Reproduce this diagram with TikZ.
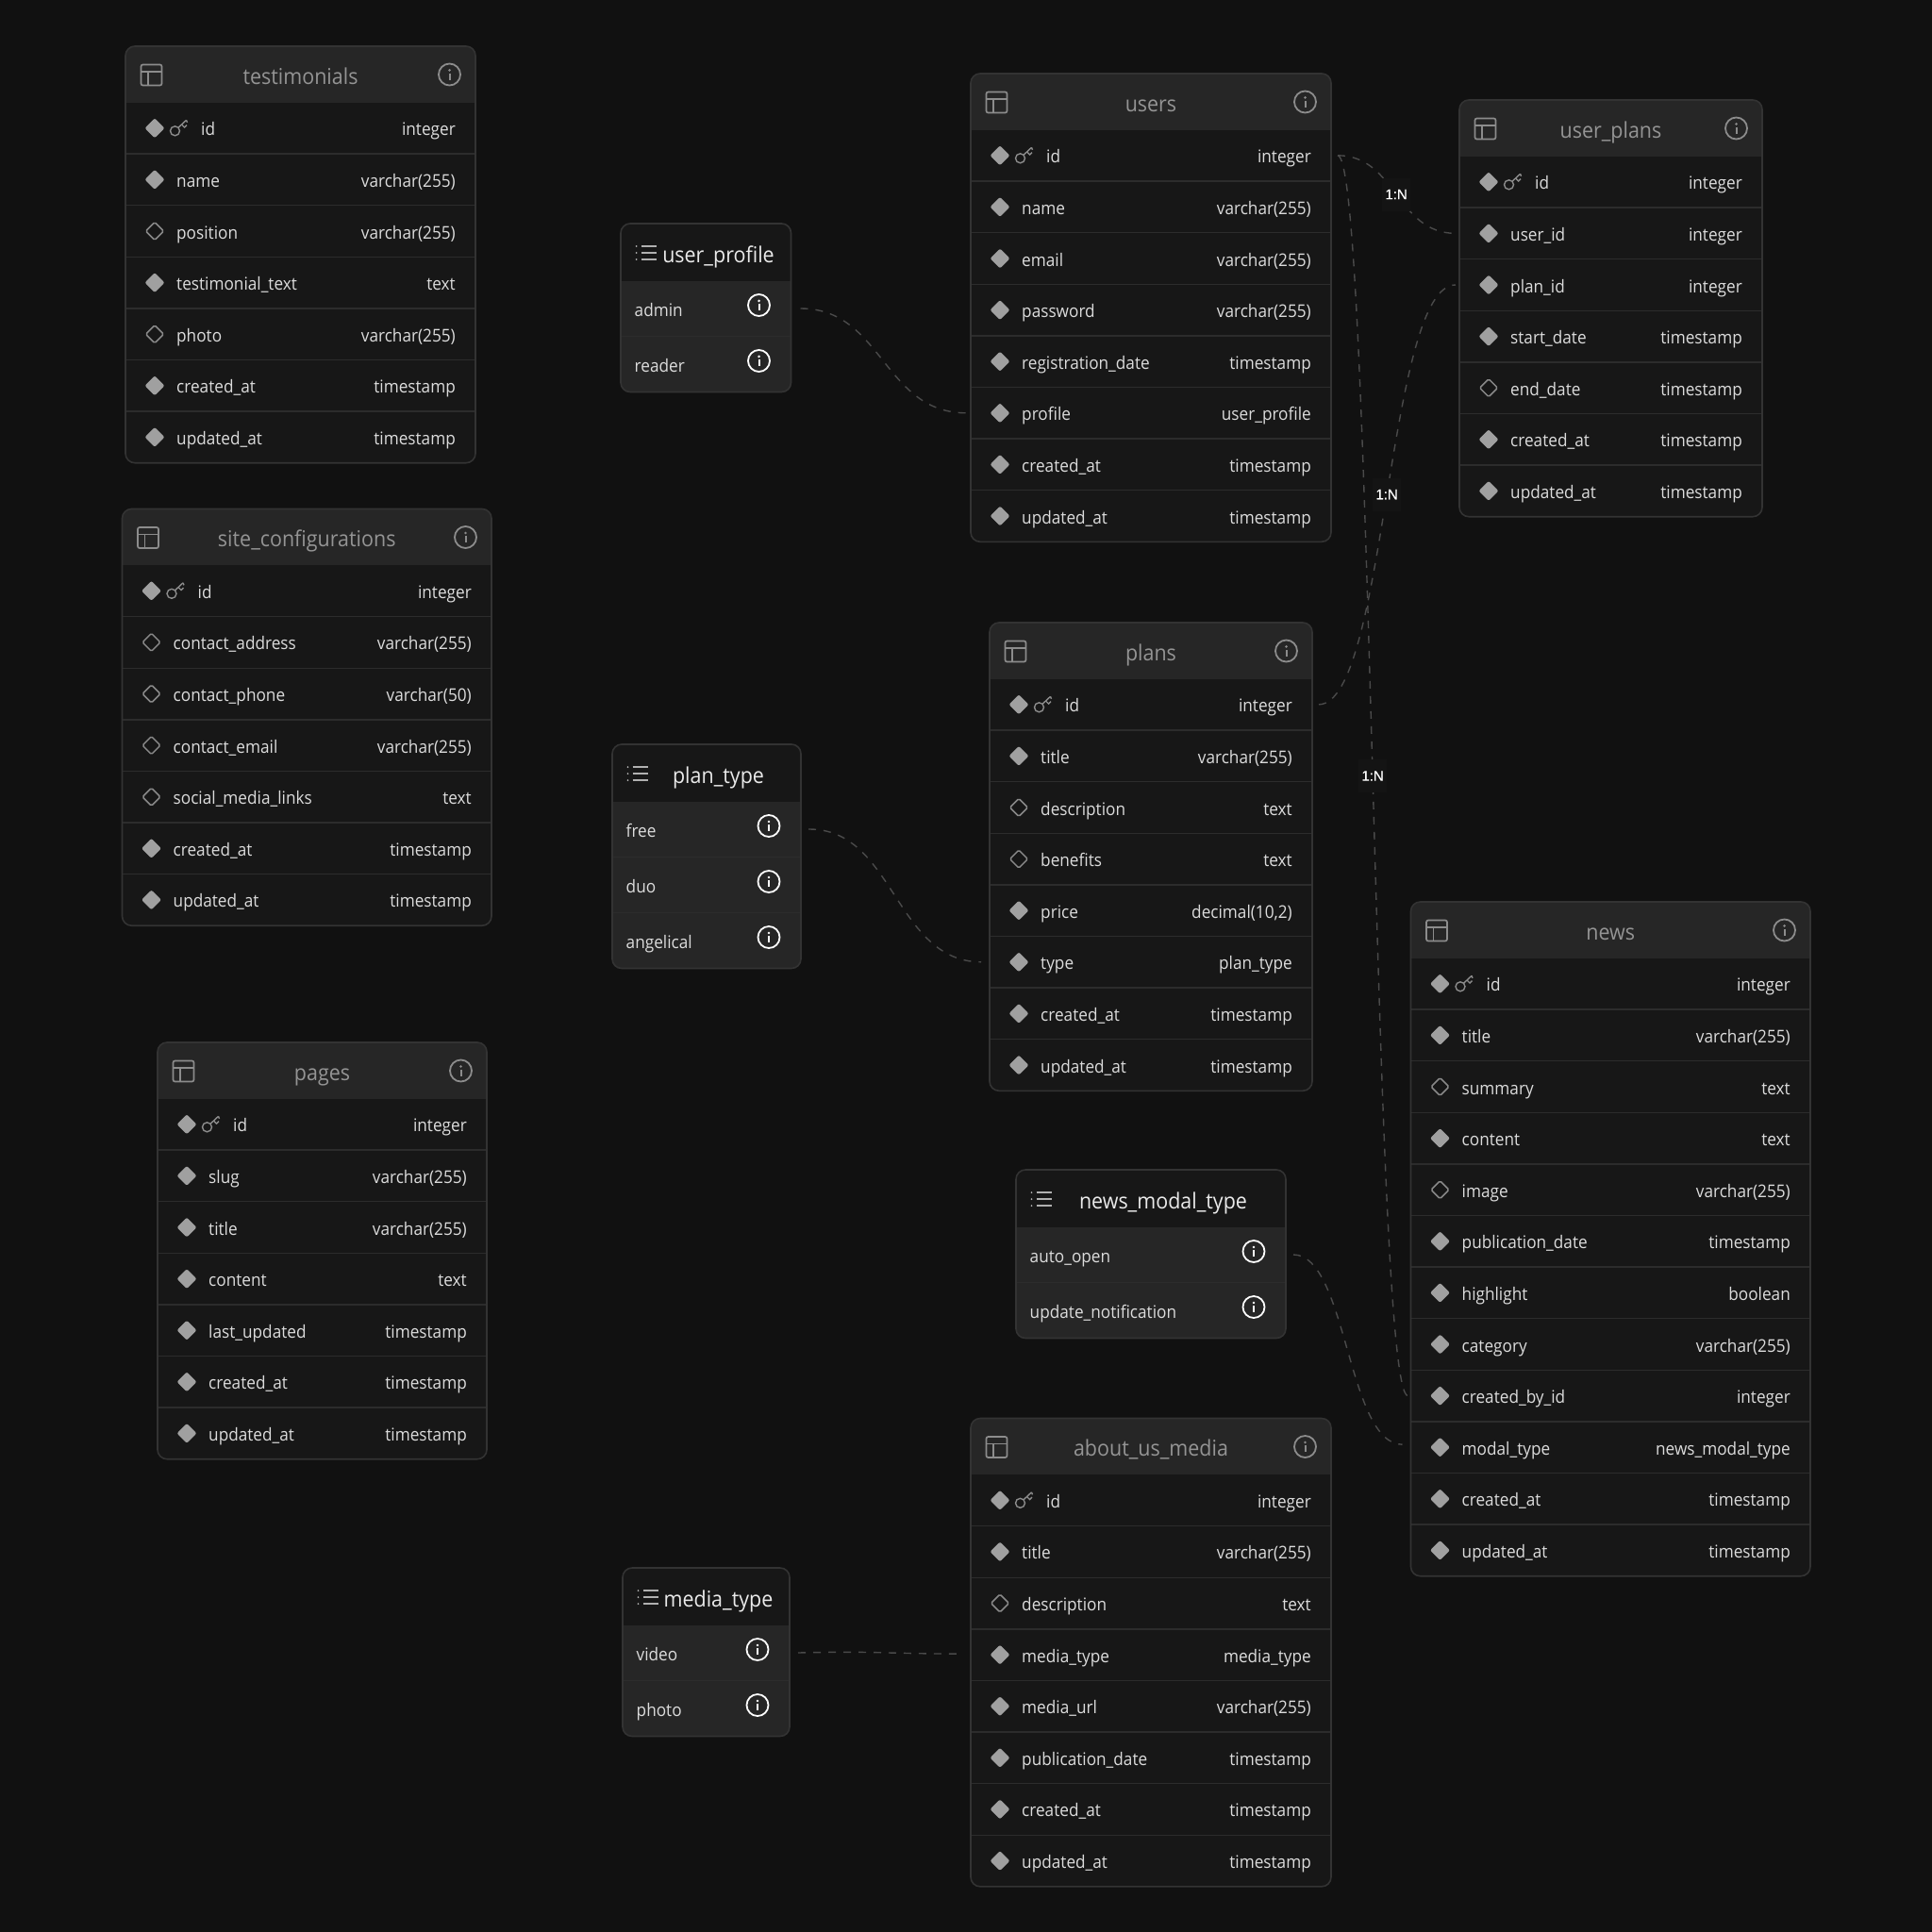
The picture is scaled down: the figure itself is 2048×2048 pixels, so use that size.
\documentclass[tikz,border=0pt]{standalone}
\usepackage{fontspec}
\setmainfont[FakeStretch=0.925]{Open Sans}
\newfontfamily\lblfont[FakeBold=0.4]{Liberation Sans}
\definecolor{bgc}{HTML}{111111}
\definecolor{rowc}{HTML}{171717}
\definecolor{headc}{HTML}{262626}
\definecolor{edgec}{HTML}{333333}
\definecolor{sepc}{HTML}{2C2C2C}
\definecolor{iconc}{HTML}{8C8C8C}
\definecolor{diac}{HTML}{A0A0A0}
\definecolor{txtc}{HTML}{DCDCDC}
\definecolor{ttlc}{HTML}{949494}
\definecolor{conc}{HTML}{4A4A4A}
\definecolor{cardc}{HTML}{141414}
\tikzset{
  x=1pt,y=-1pt,
  fieldtxt/.style={inner sep=0pt,text=txtc,font=\fontsize{18.6}{22}\selectfont},
  fieldl/.style={fieldtxt,anchor=base west},
  fieldr/.style={fieldtxt,anchor=base east},
  ttl/.style={inner sep=0pt,anchor=base,text=ttlc,font=\fontsize{23.2}{26}\selectfont},
  enumttl/.style={inner sep=0pt,anchor=base,text=txtc!60!white,font=\fontsize{23.2}{26}\selectfont},
  rowbox/.style={inner sep=0pt,outer sep=0pt,rectangle},
  shell/.style={draw=edgec,line width=1.6pt,rounded corners=10pt},
  sepline/.style={draw=sepc,line width=1.4pt},
  conn/.style={draw=conc,line width=1.4pt,dash pattern=on 8pt off 8pt},
  card/.style={inner sep=0pt,fill=cardc,text=white,minimum width=30pt,minimum height=35pt,font=\lblfont\fontsize{15}{16}\selectfont}
}
\newcommand{\tblicon}[2]{\begin{scope}[shift={(#1,#2)},draw=iconc,line width=1.7pt]
  \draw[rounded corners=2pt] (-11,-11) rectangle (11,11);
  \draw (-11,-3.5) -- (11,-3.5);
  \draw (-3.5,-3.5) -- (-3.5,11);
\end{scope}}
\newcommand{\infoicon}[3]{\begin{scope}[shift={(#1,#2)}]
  \draw[#3,line width=1.8pt] (0,0) circle (11.5);
  \fill[#3] (0,-4.6) circle (1.4);
  \draw[#3,line width=2pt] (0,-1.2) -- (0,5.5);
\end{scope}}
\newcommand{\keyicon}[2]{\begin{scope}[shift={(#1,#2)},line width=1.4pt,draw=iconc]
  \draw (-4,3) circle (5);
  \draw (-0.5,-0.5) -- (8,-8.5);
  \draw (3,-3.8) -- (6,-0.8) -- (8.5,-3.2);
  \draw (8,-8.5) -- (9,-6);
\end{scope}}
\newcommand{\listicon}[2]{\begin{scope}[shift={(#1,#2)},draw=txtc!80!black,line width=1.5pt]
  \foreach \q in {-7,0,7} {
    \fill[txtc!80!black] (-10.5,\q) circle (1);
    \draw (-5.5,\q) -- (11,\q);
  }
\end{scope}}
\newcommand{\diafill}[2]{\fill[diac,rounded corners=2pt] (#1-10.5,#2) -- (#1,#2-10.5) -- (#1+10.5,#2) -- (#1,#2+10.5) -- cycle;}
\newcommand{\diaopen}[2]{\draw[draw=diac!85!black,line width=1.5pt,rounded corners=1.5pt] (#1-9.5,#2) -- (#1,#2-9.5) -- (#1+9.5,#2) -- (#1,#2+9.5) -- cycle;}
% #1 id, #2 left, #3 right, #4 top, #5 title, #6 number of rows, #7 rows
\newcommand{\dbtable}[7]{%
  \pgfmathsetmacro\xa{#2}\pgfmathsetmacro\xb{#3}\pgfmathsetmacro\yt{#4}
  \pgfmathsetmacro\yh{#4+59.5}\pgfmathsetmacro\yb{#4+59.5+54.6*#6}
  \pgfmathsetmacro\xc{(#2+#3)/2}\pgfmathsetmacro\rw{#3-#2}
  \fill[rowc,rounded corners=10pt] (\xa,\yt) rectangle (\xb,\yb);
  \begin{scope}
    \clip[rounded corners=10pt] (\xa,\yt) rectangle (\xb,\yb);
    \fill[headc] (\xa,\yt) rectangle (\xb,\yh);
  \end{scope}
  \tblicon{#2+27.5}{#4+30.5}
  \infoicon{#3-27.5}{#4+30}{iconc}
  \node[ttl] (#1-title) at (\xc,#4+40) {#5};
  \foreach [count=\i] \f/\n/\ty in {#7} {
    \pgfmathsetmacro\yy{#4+59.5+54.6*(\i-0.5)}
    \pgfmathsetmacro\yl{#4+59.5+54.6*\i}
    \node[rowbox,minimum width=\rw pt,minimum height=54.6pt] (#1-\i) at (\xc,\yy) {};
    \ifnum\i<#6 \draw[sepline] (\xa,\yl) -- (\xb,\yl);\fi
    \ifnum\f=2
      \diafill{#2+31}{\yy}\keyicon{#2+56.5}{\yy}
      \node[fieldl] (#1-\i-n) at (#2+80,\yy+8) {\n};
    \else\ifnum\f=1
      \diafill{#2+31}{\yy}
      \node[fieldl] (#1-\i-n) at (#2+54,\yy+8) {\n};
    \else
      \diaopen{#2+31}{\yy}
      \node[fieldl] (#1-\i-n) at (#2+54,\yy+8) {\n};
    \fi\fi
    \node[fieldr] (#1-\i-t) at (#3-21,\yy+8) {\ty};
  }
  \draw[shell] (\xa,\yt) rectangle (\xb,\yb);
}
% #1 id, #2 left, #3 right, #4 top, #5 title, #6 title centre, #7 rows count, #8 rows
\newcommand{\dbenum}[8]{%
  \pgfmathsetmacro\xa{#2}\pgfmathsetmacro\xb{#3}\pgfmathsetmacro\yt{#4}
  \pgfmathsetmacro\yh{#4+60.5}\pgfmathsetmacro\yb{#4+60.5+59*#7}
  \pgfmathsetmacro\xc{(#2+#3)/2}\pgfmathsetmacro\rw{#3-#2}
  \fill[headc,rounded corners=10pt] (\xa,\yt) rectangle (\xb,\yb);
  \begin{scope}
    \clip[rounded corners=10pt] (\xa,\yt) rectangle (\xb,\yb);
    \fill[rowc] (\xa,\yt) rectangle (\xb,\yh);
  \end{scope}
  \listicon{#2+27}{#4+31}
  \node[enumttl] (#1-title) at (#6,#4+41) {#5};
  \foreach [count=\i] \n in {#8} {
    \pgfmathsetmacro\yy{#4+60.5+59*(\i-0.5)}
    \pgfmathsetmacro\yl{#4+60.5+59*\i}
    \node[rowbox,minimum width=\rw pt,minimum height=59pt] (#1-\i) at (\xc,\yy) {};
    \ifnum\i<#7 \draw[sepline] (\xa,\yl) -- (\xb,\yl);\fi
    \node[fieldl] (#1-\i-n) at (#2+14.5,\yy+8) {\n};
    \infoicon{#3-34}{\yy-3.5}{white}
  }
  \draw[shell] (\xa,\yt) rectangle (\xb,\yb);
}
\begin{document}
\begin{tikzpicture}
\fill[bgc] (0,0) rectangle (2048,2048);
\useasboundingbox (0,0) rectangle (2048,2048);

\dbtable{testimonials}{133}{504}{49}{testimonials}{7}{2/id/integer,1/name/varchar(255),0/position/varchar(255),1/testimonial\_text/text,0/photo/varchar(255),1/created\_at/timestamp,1/updated\_at/timestamp}
\dbtable{siteconf}{129.5}{521}{539.5}{site\_configurations}{7}{2/id/integer,0/contact\_address/varchar(255),0/contact\_phone/varchar(50),0/contact\_email/varchar(255),0/social\_media\_links/text,1/created\_at/timestamp,1/updated\_at/timestamp}
\dbtable{pages}{167}{516}{1105}{pages}{7}{2/id/integer,1/slug/varchar(255),1/title/varchar(255),1/content/text,1/last\_updated/timestamp,1/created\_at/timestamp,1/updated\_at/timestamp}
\dbtable{users}{1029}{1411}{78}{users}{8}{2/id/integer,1/name/varchar(255),1/email/varchar(255),1/password/varchar(255),1/registration\_date/timestamp,1/profile/user\_profile,1/created\_at/timestamp,1/updated\_at/timestamp}
\dbtable{userplans}{1547}{1868}{106}{user\_plans}{7}{2/id/integer,1/user\_id/integer,1/plan\_id/integer,1/start\_date/timestamp,0/end\_date/timestamp,1/created\_at/timestamp,1/updated\_at/timestamp}
\dbtable{plans}{1049}{1391}{660}{plans}{8}{2/id/integer,1/title/varchar(255),0/description/text,0/benefits/text,1/price/{decimal(10,2)},1/type/plan\_type,1/created\_at/timestamp,1/updated\_at/timestamp}
\dbtable{news}{1495.5}{1919}{956}{news}{12}{2/id/integer,1/title/varchar(255),0/summary/text,1/content/text,0/image/varchar(255),1/publication\_date/timestamp,1/highlight/boolean,1/category/varchar(255),1/created\_by\_id/integer,1/modal\_type/news\_modal\_type,1/created\_at/timestamp,1/updated\_at/timestamp}
\dbtable{aboutus}{1029}{1411}{1503.5}{about\_us\_media}{8}{2/id/integer,1/title/varchar(255),0/description/text,1/media\_type/media\_type,1/media\_url/varchar(255),1/publication\_date/timestamp,1/created\_at/timestamp,1/updated\_at/timestamp}

\dbenum{userprofile}{658}{838.5}{237}{user\_profile}{761.5}{2}{admin,reader}
\dbenum{plantype}{649}{849}{789}{plan\_type}{761.5}{3}{free,duo,angelical}
\dbenum{newsmodal}{1077}{1363}{1240}{news\_modal\_type}{1233}{2}{auto\_open,update\_notification}
\dbenum{mediatype}{660}{837}{1662}{media\_type}{761.5}{2}{video,photo}

\draw[conn] ([xshift=10pt]userprofile-1.east) .. controls (936,327) and (936,438) .. ([xshift=-4pt]users-6.west);
\draw[conn] ([xshift=8pt]plantype-1.east) .. controls (948,878) and (948,1019) .. ([xshift=-9pt]plans-6.west);
\draw[conn] ([xshift=8pt]newsmodal-1.east) .. controls (1428,1330) and (1428,1531) .. ([xshift=-9pt,yshift=3pt]news-10.west);
\draw[conn] ([xshift=9pt]mediatype-1.east) .. controls (933,1750) and (933,1753) .. ([xshift=-9pt,yshift=1pt]aboutus-4.west);
\draw[conn] ([xshift=7pt]users-1.east) .. controls (1480,165) and (1480,247) .. node[card,pos=0.5] (rel1) {1:N} ([xshift=-4pt]userplans-2.west);
\draw[conn] ([xshift=7pt]users-1.east) .. controls (1455,165) and (1455,1480) .. node[card,pos=0.5] (rel2) {1:N} ([xshift=-3pt]news-9.west);
\draw[conn] ([xshift=7pt]plans-1.east) .. controls (1470,746) and (1470,302) .. node[card,pos=0.5] (rel3) {1:N} ([xshift=-4pt]userplans-3.west);
\end{tikzpicture}
\end{document}
